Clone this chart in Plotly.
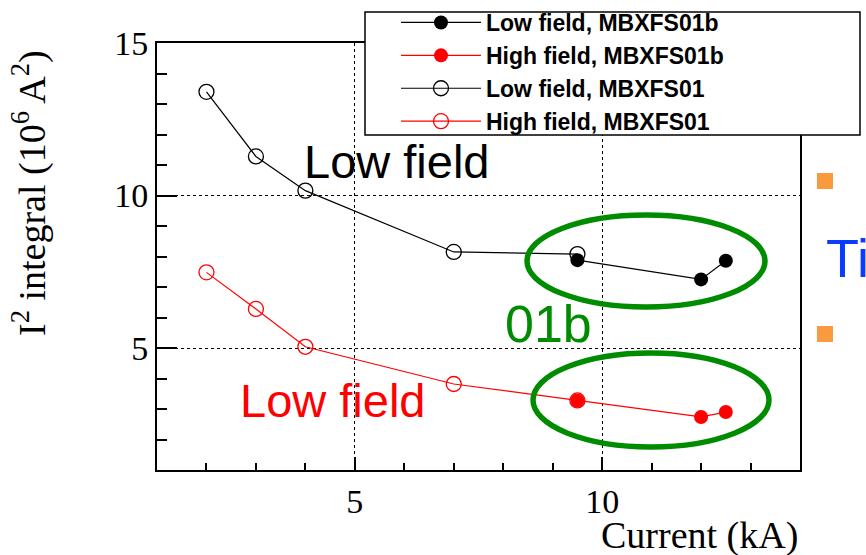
import plotly.graph_objects as go

# ---- data ----
current_low01 = [2, 3, 4, 7, 9.5]
i2_low01 = [13.4, 11.28, 10.16, 8.15, 8.08]
current_high01 = [2, 3, 4, 7, 9.5]
i2_high01 = [7.48, 6.28, 5.04, 3.82, 3.28]
current_low01b = [9.5, 12, 12.5]
i2_low01b = [7.88, 7.25, 7.86]
current_high01b = [9.5, 12, 12.5]
i2_high01b = [3.28, 2.74, 2.9]

x_ticks = [5, 10]
y_ticks = [5, 10, 15]

W, H = 866, 555
L, R, T, B = 157, 66, 43, 85
PW, PH = W - L - R, H - T - B


def px(x):
    return (x - L) / PW


def py(y):
    return (H - B - y) / PH


fig = go.Figure()

fig.add_trace(go.Scatter(x=current_low01, y=i2_low01, mode="lines+markers",
                         name="Low field, MBXFS01", legendrank=3,
                         line=dict(color="black", width=1.2),
                         marker=dict(symbol="circle-open", size=15, color="black", line=dict(width=1.3))))
fig.add_trace(go.Scatter(x=current_high01, y=i2_high01, mode="lines+markers",
                         name="High field, MBXFS01", legendrank=4,
                         line=dict(color="red", width=1.2),
                         marker=dict(symbol="circle-open", size=15, color="red", line=dict(width=1.3))))
fig.add_trace(go.Scatter(x=current_low01b, y=i2_low01b, mode="lines+markers",
                         name="Low field, MBXFS01b", legendrank=1,
                         line=dict(color="black", width=1.2),
                         marker=dict(symbol="circle", size=14, color="black")))
fig.add_trace(go.Scatter(x=current_high01b, y=i2_high01b, mode="lines+markers",
                         name="High field, MBXFS01b", legendrank=2,
                         line=dict(color="red", width=1.2),
                         marker=dict(symbol="circle", size=14, color="red")))

axis_common = dict(
    showline=True, linecolor="black", linewidth=2, mirror=True,
    ticks="inside", tickcolor="black", tickwidth=1.5,
    showgrid=True, gridcolor="black", gridwidth=1, griddash="dot",
    zeroline=False,
    tickfont=dict(family="Liberation Serif", size=34, color="black"),
)

fig.update_xaxes(range=[1, 14], tickvals=x_ticks, ticklen=13,
                 minor=dict(ticks="inside", dtick=1, ticklen=7, tickcolor="black", showgrid=False),
                 ticklabelstandoff=0, **axis_common)
fig.update_yaxes(range=[1, 15], tickvals=y_ticks, ticklen=20,
                 minor=dict(ticks="inside", dtick=1, ticklen=10, tickcolor="black", showgrid=False),
                 **axis_common)

shapes = [
    # legend frame
    dict(type="rect", xref="paper", yref="paper", x0=px(365), x1=px(860), y0=py(135), y1=py(12),
         line=dict(color="black", width=1.5), fillcolor="white", layer="above"),
    # green ellipses
    dict(type="circle", xref="paper", yref="paper", x0=px(527), x1=px(765), y0=py(307), y1=py(215),
         line=dict(color="#008c00", width=5.5), layer="above"),
    dict(type="circle", xref="paper", yref="paper", x0=px(533), x1=px(769), y0=py(447), y1=py(353),
         line=dict(color="#008c00", width=5.5), layer="above"),
    # orange bullets (slide residue)
    dict(type="rect", xref="paper", yref="paper", x0=px(817), x1=px(833), y0=py(189), y1=py(173),
         line=dict(width=0), fillcolor="#fa9a3e", layer="above"),
    dict(type="rect", xref="paper", yref="paper", x0=px(817), x1=px(833), y0=py(342), y1=py(326),
         line=dict(width=0), fillcolor="#fa9a3e", layer="above"),
]

annotations = [
    dict(text="Low field", x=px(397), y=py(161), font=dict(family="Liberation Sans", size=47, color="black")),
    dict(text="Low field", x=px(333), y=py(400), font=dict(family="Liberation Sans", size=47, color="red")),
    dict(text="01b", x=px(548), y=py(324), font=dict(family="Liberation Sans", size=52, color="#008c00")),
    dict(text="Ti", x=px(824), y=py(258), xanchor="left", font=dict(family="Liberation Sans", size=54, color="#0a3cff")),
    dict(text="Current (kA)", x=px(800), y=py(535), xanchor="right",
         font=dict(family="Liberation Serif", size=38, color="black")),
    dict(text="I<sup>2</sup> integral (10<sup>6</sup> A<sup>2</sup>)", x=px(30), y=py(193), textangle=-90,
         font=dict(family="Liberation Serif", size=38, color="black")),
]
for a in annotations:
    a.setdefault("xanchor", "center")
    a.update(xref="paper", yref="paper", yanchor="middle", showarrow=False)

fig.update_layout(
    width=W, height=H,
    margin=dict(l=L, r=R, t=T, b=B, autoexpand=False),
    paper_bgcolor="white", plot_bgcolor="white",
    showlegend=True,
    legend=dict(x=px(396), xanchor="left", y=py(1), yanchor="top",
                bgcolor="rgba(0,0,0,0)", borderwidth=0, itemwidth=80,
                font=dict(family="Liberation Sans", size=23, color="black", weight="bold"),
                tracegroupgap=0),
    shapes=shapes,
    annotations=annotations,
)

fig.write_html("out.html")
